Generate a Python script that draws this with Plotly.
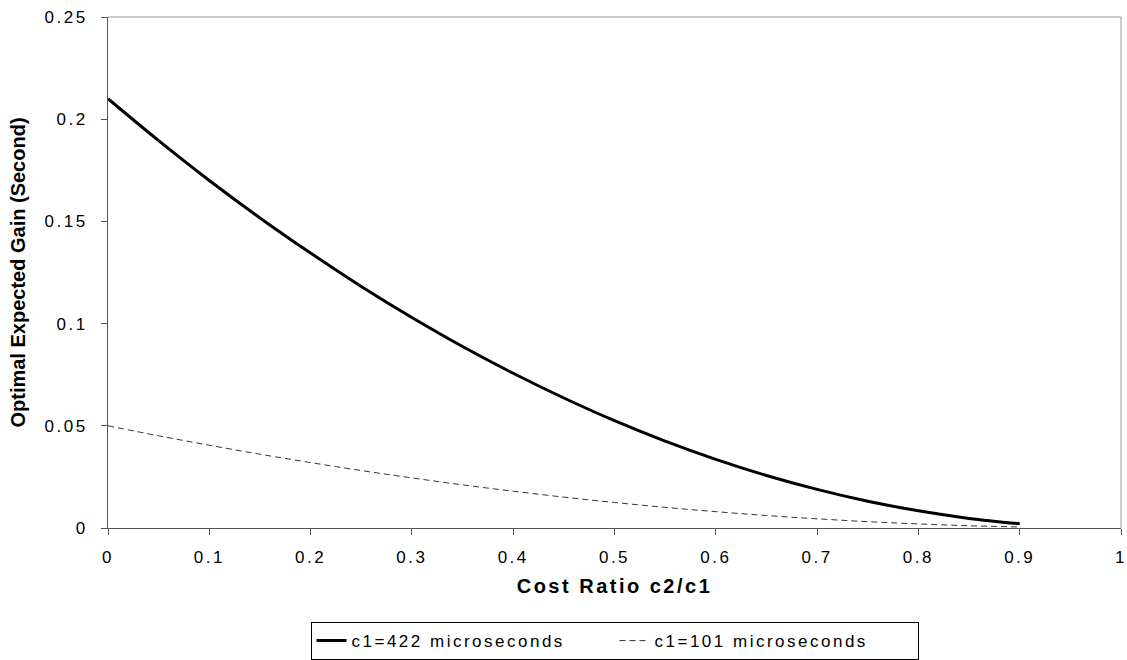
import plotly.graph_objects as go

ratio = [0.0, 0.05, 0.1, 0.15, 0.2, 0.25, 0.3, 0.35, 0.4, 0.45, 0.5, 0.55, 0.6, 0.65, 0.7, 0.75, 0.8, 0.85, 0.9]
gain_422 = [0.210, 0.1895, 0.170, 0.1517, 0.1345, 0.1182, 0.1030, 0.0888, 0.0757, 0.0636, 0.0525, 0.0425, 0.0336, 0.0257, 0.0189, 0.0131, 0.0084, 0.0047, 0.0021]
gain_101 = [0.050, 0.0451, 0.0405, 0.0361, 0.0320, 0.0281, 0.0245, 0.0211, 0.0180, 0.0151, 0.0125, 0.0101, 0.0080, 0.0061, 0.0045, 0.0031, 0.0020, 0.0011, 0.0005]
name_422 = "c1=422 microseconds"
name_101 = "c1=101 microseconds"
x_ticks = [0, 0.1, 0.2, 0.3, 0.4, 0.5, 0.6, 0.7, 0.8, 0.9, 1]
x_tick_text = ["0", "0.1", "0.2", "0.3", "0.4", "0.5", "0.6", "0.7", "0.8", "0.9", "1"]
y_ticks = [0, 0.05, 0.1, 0.15, 0.2, 0.25]
y_tick_text = ["0", "0.05", "0.1", "0.15", "0.2", "0.25"]

fig = go.Figure()
fig.add_trace(go.Scatter(x=ratio, y=gain_422, mode="lines", name=name_422,
                         line=dict(color="black", width=3, shape="spline")))
fig.add_trace(go.Scatter(x=ratio, y=gain_101, mode="lines", name=name_101,
                         line=dict(color="#333333", width=1, dash="6px,4px", shape="spline")))

fig.update_layout(
    width=1127, height=660,
    margin=dict(l=108, r=6, t=17, b=132),
    paper_bgcolor="white", plot_bgcolor="white",
    font=dict(family="Arial", size=17, color="black"),
    showlegend=True,
    legend=dict(orientation="h", x=0.5, xanchor="center",
                yref="container", y=0.0575, yanchor="top",
                bordercolor="black", borderwidth=1, tracegroupgap=0,
                entrywidth=258, entrywidthmode="pixels"),
    xaxis=dict(range=[0, 1], tickvals=x_ticks, ticktext=x_tick_text, automargin=False,
               showgrid=False, zeroline=False, showline=True, linecolor="#555555", linewidth=1,
               ticks="outside", ticklen=6, tickcolor="#555555", ticklabelstandoff=8,
               title=dict(text="<b>Cost Ratio c2/c1</b>", standoff=12)),
    yaxis=dict(range=[0, 0.25], tickvals=y_ticks, ticktext=y_tick_text, automargin=False,
               showgrid=False, zeroline=False, showline=True, linecolor="#555555", linewidth=1,
               ticks="outside", ticklen=6, tickcolor="#555555", ticklabelstandoff=10,
               title=dict(text="<b>Optimal Expected Gain (Second)</b>", standoff=13)),
    shapes=[
        dict(type="line", xref="paper", yref="paper", x0=0, x1=1, y0=1, y1=1,
             line=dict(color="#999999", width=1)),
        dict(type="line", xref="paper", yref="paper", x0=1, x1=1, y0=0, y1=1,
             line=dict(color="#999999", width=1)),
    ],
)

# page without body margin; widen letter spacing like the spreadsheet export and
# re-render (with a font string that differs, so text sizes are measured anew)
post = """
var gd = document.getElementById('{plot_id}');
document.body.style.margin = '0';
var st = document.createElement('style');
st.textContent = 'svg text:not(.ytitle) { letter-spacing: 2.5px; } svg text.ytitle { letter-spacing: 0px; }';
document.head.appendChild(st);
var d = gd.data, l = gd.layout;
l.font.family = 'Liberation Sans, Arial, sans-serif';
Plotly.purge(gd);
Plotly.newPlot(gd, d, l, {displayModeBar: false});
"""

fig.write_html("out.html", post_script=post, config={"displayModeBar": False})
